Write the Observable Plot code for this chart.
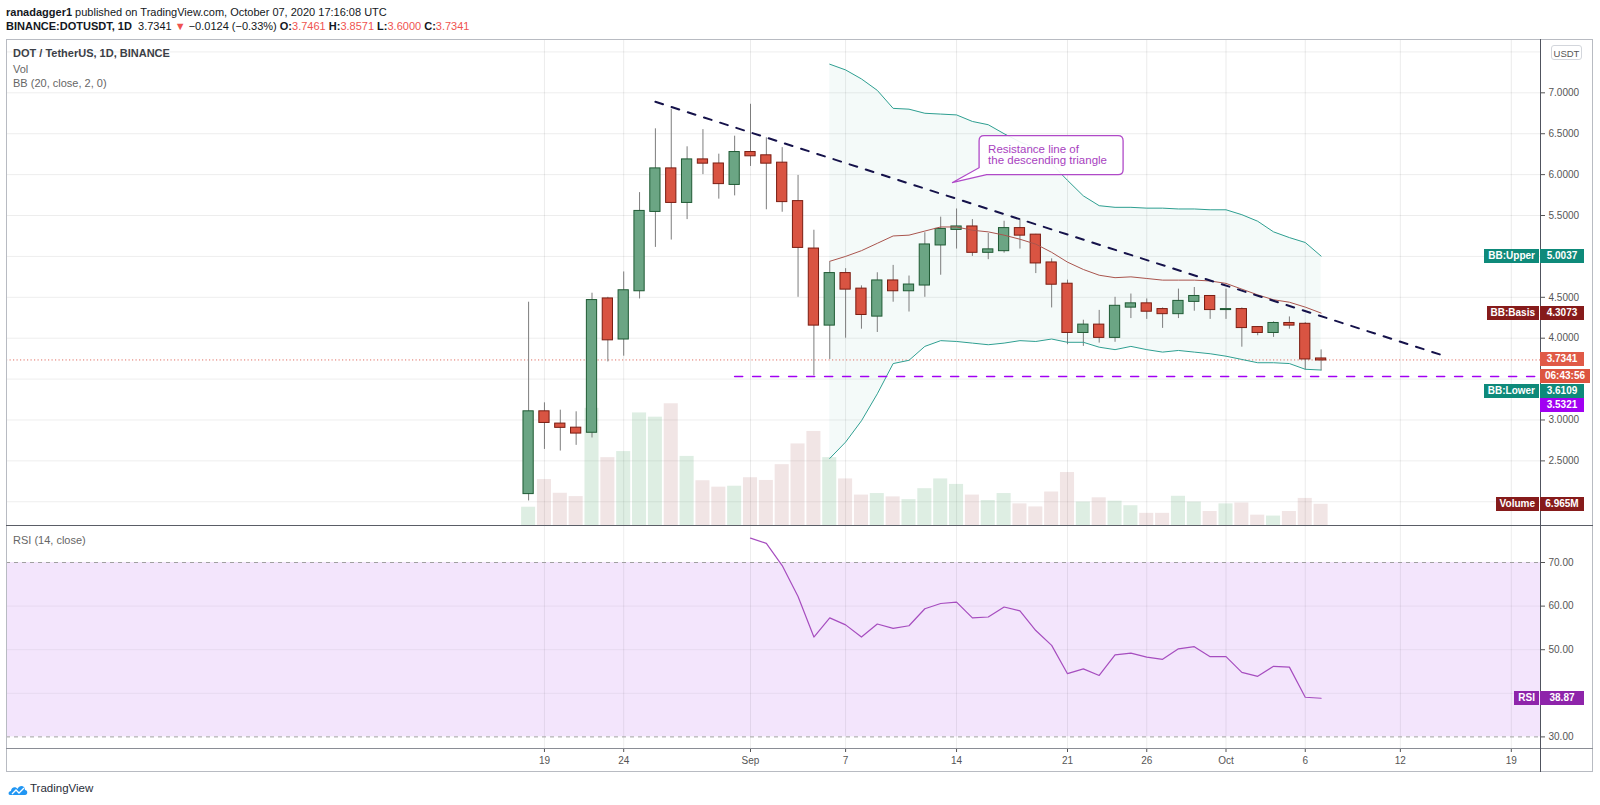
<!DOCTYPE html>
<html>
<head>
<meta charset="utf-8">
<script src="https://cdn.jsdelivr.net/npm/d3@7"></script>
<script src="https://cdn.jsdelivr.net/npm/@observablehq/plot@0.6"></script>
<style>
html, body { margin: 0; padding: 0; background: #fff; overflow: hidden; }
#wrap { position: relative; width: 1600px; height: 805px; overflow: hidden; font-family: "Liberation Sans", Arial, sans-serif; color: #131722; }
#wrap > svg { position: absolute; left: 0; top: 0; }
.abs { position: absolute; white-space: nowrap; }
.hdr { font-size: 11px; line-height: 14px; left: 6px; }
.red { color: #ef5350; }
.leg { font-size: 11px; line-height: 14px; left: 13px; color: #666; }
.tag { position: absolute; height: 14px; line-height: 14px; font-size: 10px; font-weight: bold; color: #fff; text-align: center; }
.hline { position: absolute; height: 1px; }
.vline { position: absolute; width: 1px; }
</style>
</head>
<body>
<div id="wrap"></div>
<script>
// ---------------- data ----------------
const days = [
  "2020-08-18","2020-08-19","2020-08-20","2020-08-21","2020-08-22","2020-08-23","2020-08-24",
  "2020-08-25","2020-08-26","2020-08-27","2020-08-28","2020-08-29","2020-08-30","2020-08-31",
  "2020-09-01","2020-09-02","2020-09-03","2020-09-04","2020-09-05","2020-09-06","2020-09-07",
  "2020-09-08","2020-09-09","2020-09-10","2020-09-11","2020-09-12","2020-09-13","2020-09-14",
  "2020-09-15","2020-09-16","2020-09-17","2020-09-18","2020-09-19","2020-09-20","2020-09-21",
  "2020-09-22","2020-09-23","2020-09-24","2020-09-25","2020-09-26","2020-09-27","2020-09-28",
  "2020-09-29","2020-09-30","2020-10-01","2020-10-02","2020-10-03","2020-10-04","2020-10-05",
  "2020-10-06","2020-10-07"
];
const open = [2.10,3.10,2.95,2.90,2.85,4.48,3.99,4.58,5.55,6.07,5.66,6.18,6.13,5.88,
  6.27,6.23,6.14,5.67,5.09,4.16,4.79,4.60,4.27,4.70,4.58,4.65,5.14,5.33,5.36,5.05,5.07,5.34,5.26,4.92,4.66,4.07,4.16,4.01,4.38,4.42,4.35,4.30,4.45,4.51,
  4.35,4.35,4.13,4.07,4.18,4.17,3.7461];
const high = [4.44,3.21,3.12,3.10,4.55,4.50,4.81,5.78,6.56,6.80,6.34,6.55,6.25,6.47,
  6.86,6.45,6.33,5.99,5.32,4.93,4.85,4.64,4.80,4.89,4.76,5.29,5.48,5.58,5.45,5.28,5.43,5.46,5.27,4.97,4.71,4.22,4.34,4.50,4.54,4.48,4.37,4.60,4.62,4.52,
  4.60,4.37,4.14,4.20,4.26,4.19,3.8571];
const low = [2.01,2.64,2.62,2.69,2.78,3.71,3.78,4.48,5.11,5.20,5.45,6.00,5.70,5.74,
  6.10,5.57,5.54,4.50,3.54,3.74,4.00,4.11,4.07,4.44,4.32,4.50,4.77,5.09,5.00,4.96,5.04,5.09,4.79,4.37,3.92,3.90,3.94,3.95,4.24,4.23,4.12,4.24,4.33,4.23,
  4.23,3.89,4.03,4.01,4.11,3.61,3.60];
const close = [3.10,2.97,2.91,2.84,4.46,3.98,4.58,5.55,6.07,5.66,6.18,6.14,5.89,6.27,
  6.23,6.14,5.67,5.11,4.16,4.79,4.60,4.29,4.70,4.58,4.65,5.14,5.33,5.36,5.05,5.08,5.34,5.26,4.92,4.66,4.07,4.16,4.01,4.39,4.42,4.33,4.30,4.45,4.51,4.35,
  4.35,4.13,4.07,4.18,4.16,3.7461,3.7341];
const volume = [6.0,15.1,10.6,9.5,38.5,22.3,24.3,37.0,35.6,40.0,22.7,14.7,12.6,12.9,
  15.7,14.8,20.0,26.8,30.9,22.3,15.3,10.0,10.5,9.4,8.5,12.1,15.3,13.5,10.0,8.2,10.5,7.1,6.1,11.0,17.4,7.7,9.1,8.0,6.5,4.0,4.0,9.6,7.7,4.6,
  7.1,7.4,3.4,3.1,4.6,8.9,6.965]; // millions

const bbStart = "2020-09-06";
const bbUpper = [7.35,7.28,7.17,7.03,6.81,6.80,6.75,6.74,6.73,6.65,6.61,6.50,6.40,6.32,6.13,5.93,5.74,5.62,5.60,5.60,5.59,5.59,5.58,5.58,5.57,
  5.57,5.51,5.43,5.30,5.23,5.17,5.0037];
const bbBasis = [4.94,5.00,5.07,5.16,5.25,5.26,5.31,5.36,5.36,5.32,5.30,5.26,5.21,5.15,5.05,4.93,4.84,4.77,4.74,4.75,4.73,4.71,4.71,4.71,4.70,
  4.67,4.60,4.53,4.47,4.44,4.38,4.3073];
const bbLower = [2.53,2.73,2.99,3.32,3.69,3.73,3.90,3.97,3.96,3.94,3.92,3.94,3.97,3.96,3.99,3.95,3.95,3.89,3.86,3.90,3.86,3.83,3.85,3.83,3.81,
  3.78,3.74,3.70,3.70,3.69,3.62,3.6109];

const rsiStart = "2020-09-01";
const rsiValues = [75.6,74.4,69.3,62.2,52.9,57.3,55.7,52.9,55.9,54.9,55.5,59.4,60.6,60.9,57.3,57.5,59.8,58.9,54.4,51.0,
  44.5,45.6,44.1,48.8,49.2,48.3,47.8,50.2,50.7,48.4,48.4,44.8,43.9,46.2,46.0,39.1,38.87];

const priceGrid = [2.0,2.5,3.0,3.5,4.0,4.5,5.0,5.5,6.0,6.5,7.0,7.5];
const priceTickLabels = [2.5,3.0,4.0,4.5,5.0,5.5,6.0,6.5,7.0];   // others are covered by value tags
const rsiTickLabels = [30,50,60,70];                             // 40 is covered by the RSI tag
const rsiBandLevels = [30,70];
const rsiGridLevels = [40,50,60];
const dateTicks = ["2020-08-19","2020-08-24","2020-09-01","2020-09-07","2020-09-14","2020-09-21","2020-09-26","2020-10-01","2020-10-06","2020-10-12","2020-10-19"];
const dateTickLabels = ["19","24","Sep","7","14","21","26","Oct","6","12","19"];

const resistanceLine = [{date:"2020-08-26", price:6.89},{date:"2020-10-15", price:3.77}];
const supportLine = [{date:"2020-08-31", price:3.5321},{date:"2020-10-22", price:3.5321}];
const lastPrice = 3.7341;
const lastVolume = 6.965;
const lastRsi = 38.87;
const note = {date:"2020-09-13T18:00:00Z", price:5.895, lines:["Resistance line of","the descending triangle"]};

// ---------------- tables ----------------
const candles = days.map((d,i) => ({date:new Date(d), open:open[i], high:high[i], low:low[i], close:close[i], volume:volume[i], up: close[i] >= open[i]}));
const bbIdx = days.indexOf(bbStart);
const bb = bbUpper.map((u,i) => ({date:new Date(days[bbIdx+i]), upper:u, basis:bbBasis[i], lower:bbLower[i]}));
const rsiIdx = days.indexOf(rsiStart);
const rsi = rsiValues.map((v,i) => ({date:new Date(days[rsiIdx+i]), value:v}));
const tickDates = dateTicks.map(d => new Date(d));
const tickLabelMap = new Map(tickDates.map((d,i) => [+d, dateTickLabels[i]]));
const resist = resistanceLine.map(d => ({date:new Date(d.date), price:d.price}));
const support = supportLine.map(d => ({date:new Date(d.date), price:d.price}));

// ---------------- layout ----------------
const W = 1600, H = 805;
const PANE_LEFT = 6, AXIS_X = 1540, FRAME_RIGHT = 1593;
const PRICE_TOP = 39, PANE_SPLIT = 525, RSI_BOTTOM = 748, FRAME_BOTTOM = 772;
const DAY_PX = 15.85, SEP1_X = 750, DAY_MS = 864e5, HALF = 432e5;
const sep1 = new Date("2020-09-01");
const xDomain = [new Date(+sep1 - (SEP1_X - PANE_LEFT) / DAY_PX * DAY_MS), new Date(+sep1 + (AXIS_X - SEP1_X) / DAY_PX * DAY_MS)];
const priceDomain = [1.710, 7.652];
const volumeDomain = [0, 159.7];
const rsiDomain = [27.34, 78.49];

const GREEN = "#6ba584", GREEN_EDGE = "#1f5a34", RED = "#d95442", RED_EDGE = "#7a1d12";
const TEAL = "#2e9f91", BASIS = "#a9544d", PURPLE = "#a100f2";
const FONT = "Liberation Sans, Arial, sans-serif";
const style = {background:"transparent", overflow:"visible", fontFamily:FONT, fontSize:"10px"};
const base = (top, bottom) => ({width:W, height:H, marginLeft:PANE_LEFT, marginRight:W-AXIS_X, marginTop:top, marginBottom:H-bottom, style});
const x1 = d => new Date(+d.date - HALF), x2 = d => new Date(+d.date + HALF);

const wrap = document.getElementById("wrap");

// layer 1: grid + band fill
const gridLayer = Plot.plot({
  ...base(PRICE_TOP, PANE_SPLIT),
  x:{type:"utc", domain:xDomain, axis:null, label:null},
  y:{domain:priceDomain, axis:null, label:null},
  marks:[
    Plot.ruleY(priceGrid, {stroke:"#000", strokeOpacity:0.07}),
    Plot.ruleX(tickDates, {stroke:"#000", strokeOpacity:0.08}),
    Plot.areaY(bb, {x:"date", y1:"lower", y2:"upper", fill:TEAL, fillOpacity:0.055})
  ]
});
wrap.appendChild(gridLayer);

// layer 2: volume
const volLayer = Plot.plot({
  ...base(PRICE_TOP, PANE_SPLIT),
  x:{type:"utc", domain:xDomain, axis:null, label:null},
  y:{domain:volumeDomain, axis:null, label:null},
  marks:[
    Plot.rect(candles, {x1, x2, y1:0, y2:"volume", fill:d => d.up ? "#3a9a5a" : "#a05050", fillOpacity:d => d.up ? 0.17 : 0.15, insetLeft:0.9, insetRight:0.9})
  ]
});
wrap.appendChild(volLayer);

// layer 3: price
const priceLayer = Plot.plot({
  ...base(PRICE_TOP, PANE_SPLIT),
  x:{type:"utc", domain:xDomain, axis:null, label:null},
  y:{domain:priceDomain, label:null},
  marks:[
    Plot.ruleY([lastPrice], {stroke:"#e06f63", strokeDasharray:"1.2,2.3"}),
    Plot.ruleX(candles, {x:"date", y1:"low", y2:"high", stroke:"#7d7d7d"}),
    Plot.rect(candles, {x1, x2, y1:"open", y2:"close", fill:d => d.up ? GREEN : RED, stroke:d => d.up ? GREEN_EDGE : RED_EDGE, insetLeft:2.8, insetRight:2.8, insetTop:-0.5, insetBottom:-0.5}),
    Plot.line(bb, {x:"date", y:"upper", stroke:TEAL, strokeWidth:1}),
    Plot.line(bb, {x:"date", y:"lower", stroke:TEAL, strokeWidth:1}),
    Plot.line(bb, {x:"date", y:"basis", stroke:BASIS, strokeWidth:1}),
    Plot.line(support, {x:"date", y:"price", stroke:PURPLE, strokeWidth:1.6, strokeDasharray:"8,10", clip:true}),
    Plot.line(resist, {x:"date", y:"price", stroke:"#15124a", strokeWidth:2, strokeDasharray:"8,9"}),
    Plot.axisY(priceTickLabels, {anchor:"right", tickSize:4, tickPadding:4, tickFormat:d => d.toFixed(4), color:"#555", fontSize:10, label:null})
  ]
});
wrap.appendChild(priceLayer);

// layer 4: RSI + date axis
const rsiLayer = Plot.plot({
  ...base(PANE_SPLIT, RSI_BOTTOM),
  x:{type:"utc", domain:xDomain, label:null},
  y:{domain:rsiDomain, label:null},
  marks:[
    Plot.rect([{lo:rsiBandLevels[0], hi:rsiBandLevels[1]}], {y1:"lo", y2:"hi", fill:"#f3e5fc"}),
    Plot.ruleY(rsiGridLevels, {stroke:"#000", strokeOpacity:0.05}),
    Plot.ruleX(tickDates, {stroke:"#000", strokeOpacity:0.07}),
    Plot.ruleY(rsiBandLevels, {stroke:"#a0a0a0", strokeDasharray:"4,4"}),
    Plot.line(rsi, {x:"date", y:"value", stroke:"#a64dbf", strokeWidth:1.2}),
    Plot.axisY(rsiTickLabels, {anchor:"right", tickSize:4, tickPadding:4, tickFormat:d => d.toFixed(2), color:"#555", fontSize:10, label:null}),
    Plot.axisX(tickDates, {anchor:"bottom", tickSize:4, tickPadding:4, tickFormat:d => tickLabelMap.get(+d), color:"#555", fontSize:10, label:null})
  ]
});
wrap.appendChild(rsiLayer);

function scaleOf(chart, name) {
  const s = chart.scale(name);
  if (s && typeof s.apply === "function") return v => s.apply(v);
  const f = (s.type === "utc" ? d3.scaleUtc() : d3.scaleLinear()).domain(s.domain).range(s.range);
  return v => f(v);
}
const X = scaleOf(priceLayer, "x");
const Y = scaleOf(priceLayer, "y");
const YV = scaleOf(volLayer, "y");
const YR = scaleOf(rsiLayer, "y");

// callout annotation
{
  const svg = d3.select(priceLayer);
  const tx = X(new Date(note.date)), ty = Y(note.price);
  const bx = tx + 27, by = ty - 47, bw = 144, bh = 39, r = 5;
  const p1y = by + 32, p2x = bx + 7.5;
  const g = svg.append("g").attr("text-anchor", "start");
  g.append("path")
    .attr("d", `M${bx+r},${by} H${bx+bw-r} Q${bx+bw},${by} ${bx+bw},${by+r} V${by+bh-r} Q${bx+bw},${by+bh} ${bx+bw-r},${by+bh} H${p2x} L${tx},${ty} L${bx},${p1y} V${by+r} Q${bx},${by} ${bx+r},${by} Z`)
    .attr("fill", "#fff").attr("fill-opacity", 0.9).attr("stroke", "#b04ac8").attr("stroke-width", 1.3);
  note.lines.forEach((t, i) => {
    g.append("text").attr("x", bx + 9).attr("y", by + 17.5 + i * 10.5).attr("text-anchor", "start")
      .attr("fill", "#a83fc0").attr("font-size", "11.5px").attr("font-family", FONT).text(t);
  });
}

// ---------------- html decorations ----------------
function el(cls, html, css) {
  const d = document.createElement("div");
  d.className = cls;
  d.innerHTML = html;
  Object.assign(d.style, css);
  wrap.appendChild(d);
  return d;
}
// header
el("abs hdr", "<b>ranadagger1</b> published on TradingView.com, October 07, 2020 17:16:08 UTC", {top:"5px"});
el("abs hdr", '<b>BINANCE:DOTUSDT, 1D</b>&nbsp; 3.7341 <span class="red">&#9660;</span> &minus;0.0124 (&minus;0.33%) <b>O:</b><span class="red">3.7461</span> <b>H:</b><span class="red">3.8571</span> <b>L:</b><span class="red">3.6000</span> <b>C:</b><span class="red">3.7341</span>', {top:"19px"});

// frame lines
el("abs", "", {left:PANE_LEFT+"px", top:PRICE_TOP+"px", width:(FRAME_RIGHT-PANE_LEFT)+"px", height:(FRAME_BOTTOM-PRICE_TOP)+"px", border:"1px solid #b8bbc2", boxSizing:"border-box"});
el("hline", "", {left:PANE_LEFT+"px", top:(PANE_SPLIT-0.5)+"px", width:(FRAME_RIGHT-PANE_LEFT)+"px", background:"#5a5d66"});
el("hline", "", {left:PANE_LEFT+"px", top:(RSI_BOTTOM-0.5)+"px", width:(FRAME_RIGHT-PANE_LEFT)+"px", background:"#8a8d95"});
el("vline", "", {left:(AXIS_X-0.5)+"px", top:PRICE_TOP+"px", height:(FRAME_BOTTOM-PRICE_TOP)+"px", background:"#50535e"});

// legends
el("abs leg", '<span style="color:#3c3f47;font-weight:bold">DOT / TetherUS, 1D, BINANCE</span>', {top:"46px"});
el("abs leg", "Vol", {top:"62px"});
el("abs leg", "BB (20, close, 2, 0)", {top:"76px"});
el("abs leg", "RSI (14, close)", {top:"533px"});

// USDT box
el("abs", "USDT", {left:"1551px", top:"45px", width:"31px", height:"15px", lineHeight:"15px", border:"1px solid #d3d6dc", borderRadius:"3px", background:"#fff", fontSize:"9.5px", color:"#555", textAlign:"center", boxSizing:"border-box"});

// tags
function tag(y, name, text, color, valueWidth) {
  const top = (y - 7) + "px";
  if (name) el("tag", name, {left:"auto", right:(W - AXIS_X + 1) + "px", top, padding:"0 4px", background:color});
  el("tag", text, {left:AXIS_X + "px", top, width:valueWidth + "px", background:color});
}
const priceTags = [
  {name:"BB:Upper", value:5.0037, text:"5.0037", color:"#0e8a7a", shift:0, w:44},
  {name:"BB:Basis", value:4.3073, text:"4.3073", color:"#861b1b", shift:0, w:44},
  {name:null, value:lastPrice, text:"3.7341", color:"#e05a47", shift:0, w:44},
  {name:null, value:lastPrice, text:"06:43:56", color:"#dc5540", shift:16.3, w:50},
  {name:"BB:Lower", value:3.6109, text:"3.6109", color:"#0e8a7a", shift:21, w:44},
  {name:null, value:3.5321, text:"3.5321", color:PURPLE, shift:29.3, w:44}
];
priceTags.forEach(t => tag(Y(t.value) + t.shift, t.name, t.text, t.color, t.w));
tag(YV(lastVolume), "Volume", "6.965M", "#861b1b", 44);
tag(YR(lastRsi), "RSI", lastRsi.toFixed(2), "#8e24aa", 44);

// TradingView logo
el("abs", '<svg width="20" height="12" viewBox="0 0 20 12"><path d="M2 11 C0 11 0 7 3 7 C3 3 8 2 9.5 5 C11 1 17 1 17 6 C20 6 20 11 17 11 Z" fill="#2196f3"/><path d="M4 10 L8 6 L11 9 L16 4" stroke="#fff" stroke-width="1.3" fill="none"/></svg>', {left:"8px", top:"782px"});
el("abs", "TradingView", {left:"30px", top:"781px", fontSize:"11.5px", lineHeight:"14px", color:"#2a2e39"});
</script>
</body>
</html>
